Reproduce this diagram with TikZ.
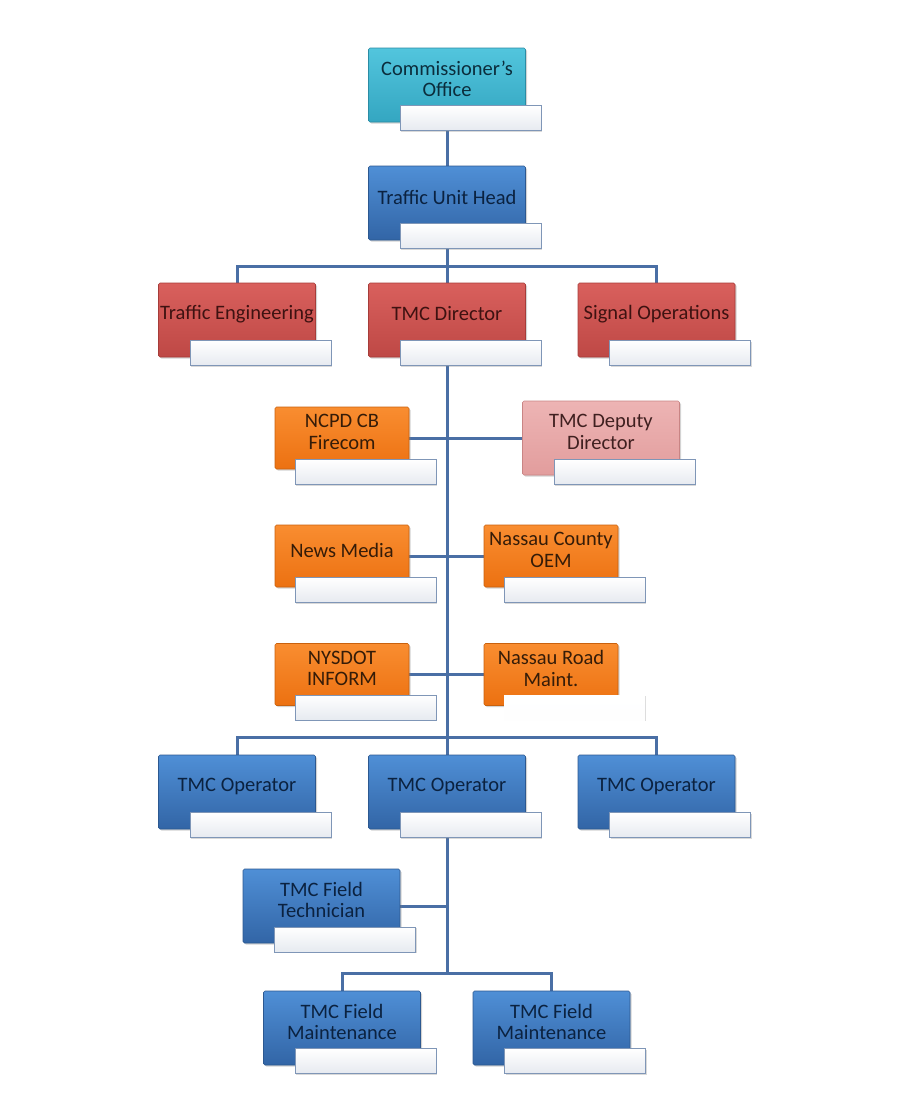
\documentclass[tikz,border=0pt]{standalone}
\usepackage{fontspec}
\setmainfont{Carlito}
\usepackage{tikz}
\usetikzlibrary{shadows, backgrounds, positioning}

\definecolor{linkblue}{HTML}{4A6FA5}
\definecolor{bluetop}{HTML}{4F8FD6}
\definecolor{bluebot}{HTML}{3265A6}
\definecolor{blueline}{HTML}{2C5890}
\definecolor{bluetext}{HTML}{0B2240}
\definecolor{redtop}{HTML}{D9605D}
\definecolor{redbot}{HTML}{BE4845}
\definecolor{redline}{HTML}{A63C39}
\definecolor{redtext}{HTML}{3E1211}
\definecolor{orangetop}{HTML}{F98D30}
\definecolor{orangebot}{HTML}{EC7111}
\definecolor{orangeline}{HTML}{C9610D}
\definecolor{orangetext}{HTML}{351C08}
\definecolor{cyantop}{HTML}{52C5DD}
\definecolor{cyanbot}{HTML}{34A6C1}
\definecolor{cyanline}{HTML}{2B8CA4}
\definecolor{cyantext}{HTML}{0B2D3C}
\definecolor{pinktop}{HTML}{EDB4B4}
\definecolor{pinkbot}{HTML}{E29D9D}
\definecolor{pinkline}{HTML}{C98484}
\definecolor{pinktext}{HTML}{402020}
\definecolor{taggray}{HTML}{E6EAF0}
\definecolor{tagline}{HTML}{7F96B7}

\tikzset{
  unit/.style={rectangle, rounded corners=1.5pt, minimum width=157pt,
    minimum height=74pt, inner sep=0pt, line width=0.6pt,
    drop shadow={shadow xshift=1.5pt, shadow yshift=-1.5pt, opacity=0.35}},
  small unit/.style={unit, minimum width=134pt, minimum height=62pt},
  blueunit/.style={unit, draw=blueline, top color=bluetop, bottom color=bluebot},
  redunit/.style={unit, draw=redline, top color=redtop, bottom color=redbot},
  cyanunit/.style={unit, draw=cyanline, top color=cyantop, bottom color=cyanbot},
  pinkunit/.style={unit, draw=pinkline, top color=pinktop, bottom color=pinkbot},
  orangeunit/.style={small unit, draw=orangeline, top color=orangetop, bottom color=orangebot},
  tag/.style={rectangle, minimum width=141pt, minimum height=25pt, inner sep=0pt,
    draw=tagline, line width=0.8pt, top color=white, bottom color=taggray,
    drop shadow={shadow xshift=1.2pt, shadow yshift=-1.2pt, opacity=0.3}},
  plain tag/.style={tag, draw=none, top color=white, bottom color=white!94!taggray},
  txt/.style={font=\fontsize{20.5}{21.5}\selectfont, align=center, inner sep=0pt},
  link/.style={draw=linkblue, line width=3pt},
}

\begin{document}
\begin{tikzpicture}[x=1pt, y=-1pt]
	\useasboundingbox (0,0) rectangle (908,1120);

	%top
	\node[cyanunit] (comm) at (447,85) {};
	\node[tag] (comm-t) at (470.5,118) {};
	\node[txt, text=cyantext] (comm-x) at ([yshift=6pt]comm.center) {Commissioner’s\\Office};

	\node[blueunit] (tuh) at (447,203) {};
	\node[tag] (tuh-t) at (470.5,236) {};
	\node[txt, text=bluetext] (tuh-x) at ([yshift=6pt]tuh.center) {Traffic Unit Head};

	%third row
	\node[redunit] (te) at (237,320) {};
	\node[tag] (te-t) at (260.5,353) {};
	\node[txt, text=redtext] (te-x) at ([yshift=6pt]te.center) {Traffic Engineering};

	\node[redunit] (dir) at (447,320) {};
	\node[tag] (dir-t) at (470.5,353) {};
	\node[txt, text=redtext] (dir-x) at ([yshift=6pt]dir.center) {TMC Director};

	\node[redunit] (sig) at (656.5,320) {};
	\node[tag] (sig-t) at (680,353) {};
	\node[txt, text=redtext] (sig-x) at ([yshift=6pt]sig.center) {Signal Operations};

	%side units
	\node[orangeunit] (ncpd) at (342,438) {};
	\node[tag] (ncpd-t) at (365.5,472) {};
	\node[txt, text=orangetext] (ncpd-x) at ([yshift=6pt]ncpd.center) {NCPD CB\\Firecom};

	\node[pinkunit] (dep) at (601,438) {};
	\node[tag] (dep-t) at (624.5,472) {};
	\node[txt, text=pinktext] (dep-x) at ([yshift=6pt]dep.center) {TMC Deputy\\Director};

	\node[orangeunit] (news) at (342,556) {};
	\node[tag] (news-t) at (365.5,590) {};
	\node[txt, text=orangetext] (news-x) at ([yshift=6pt]news.center) {News Media};

	\node[orangeunit] (oem) at (551,556) {};
	\node[tag] (oem-t) at (574.5,590) {};
	\node[txt, text=orangetext] (oem-x) at ([yshift=6pt]oem.center) {Nassau County\\OEM};

	\node[orangeunit] (nys) at (342,674.5) {};
	\node[tag] (nys-t) at (365.5,707.5) {};
	\node[txt, text=orangetext] (nys-x) at ([yshift=6pt]nys.center) {NYSDOT\\INFORM};

	\node[orangeunit] (nrm) at (551,674.5) {};
	\node[plain tag] (nrm-t) at (574.5,707.5) {};
	\node[txt, text=orangetext] (nrm-x) at ([yshift=6pt]nrm.center) {Nassau Road\\Maint.};

	%operators
	\node[blueunit] (op1) at (237,792) {};
	\node[tag] (op1-t) at (260.5,825) {};
	\node[txt, text=bluetext] (op1-x) at ([yshift=6pt]op1.center) {TMC Operator};

	\node[blueunit] (op2) at (447,792) {};
	\node[tag] (op2-t) at (470.5,825) {};
	\node[txt, text=bluetext] (op2-x) at ([yshift=6pt]op2.center) {TMC Operator};

	\node[blueunit] (op3) at (656.5,792) {};
	\node[tag] (op3-t) at (680,825) {};
	\node[txt, text=bluetext] (op3-x) at ([yshift=6pt]op3.center) {TMC Operator};

	%field
	\node[blueunit] (tech) at (321.5,906) {};
	\node[tag] (tech-t) at (345,939.5) {};
	\node[txt, text=bluetext] (tech-x) at ([yshift=6pt]tech.center) {TMC Field\\Technician};

	\node[blueunit] (mnt1) at (342,1028) {};
	\node[tag] (mnt1-t) at (365.5,1061) {};
	\node[txt, text=bluetext] (mnt1-x) at ([yshift=6pt]mnt1.center) {TMC Field\\Maintenance};

	\node[blueunit] (mnt2) at (551.5,1028) {};
	\node[tag] (mnt2-t) at (575,1061) {};
	\node[txt, text=bluetext] (mnt2-x) at ([yshift=6pt]mnt2.center) {TMC Field\\Maintenance};

	%lines
	\coordinate (bar1) at (447,266);
	\coordinate (bar2) at (447,737);
	\coordinate (bar3) at (447,973);
	\begin{scope}[on background layer]
		\draw[link] (comm.south) -- (tuh.north);
		\draw[link] (tuh.south) -- (dir.north);
		\draw[link] (te.north) |- (bar1) -| (sig.north);
		\draw[link] (dir.south) -- (op2.north);
		\draw[link] (ncpd.east) -- (dep.west);
		\draw[link] (news.east) -- (oem.west);
		\draw[link] (nys.east) -- (nrm.west);
		\draw[link] (op1.north) |- (bar2) -| (op3.north);
		\draw[link] (op2.south) -- (bar3);
		\draw[link] (tech.east) -- (tech.east -| bar3);
		\draw[link] (mnt1.north) |- (bar3) -| (mnt2.north);
	\end{scope}
\end{tikzpicture}
\end{document}
